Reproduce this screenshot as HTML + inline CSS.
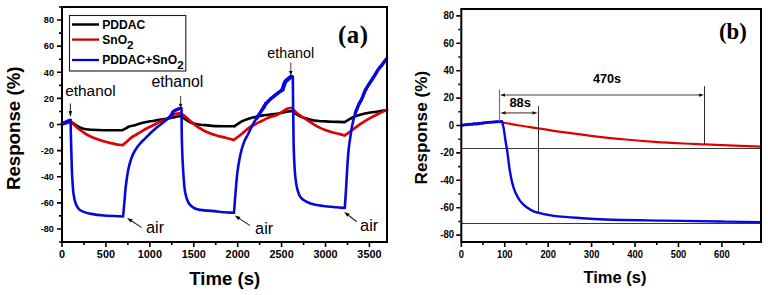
<!DOCTYPE html>
<html><head><meta charset="utf-8"><title>Response</title>
<style>html,body{margin:0;padding:0;background:#fff;}body{width:768px;height:295px;overflow:hidden;font-family:"Liberation Sans",sans-serif;}svg{display:block;}</style>
</head><body>
<svg width="768" height="295" viewBox="0 0 768 295"><rect x="0" y="0" width="768" height="295" fill="#fff"/>
<g fill="none" stroke-linejoin="round" stroke-linecap="round">
<path d="M62.00,124.30 C62.67,124.13 64.53,123.75 66.00,123.30 C67.47,122.85 70.00,121.88 70.80,121.60 M70.80,121.60 C71.52,122.08 73.58,123.52 75.10,124.50 C76.62,125.48 78.12,126.72 79.90,127.50 C81.68,128.28 83.83,128.82 85.80,129.20 C87.77,129.58 88.73,129.63 91.70,129.80 C94.67,129.97 98.47,130.13 103.60,130.20 C108.73,130.27 119.35,130.20 122.50,130.20 M122.50,130.20 C123.08,129.88 124.88,128.93 126.00,128.30 C127.12,127.67 127.70,126.92 129.20,126.40 C130.70,125.88 133.18,125.67 135.00,125.20 C136.82,124.73 138.40,124.08 140.10,123.60 C141.80,123.12 143.50,122.68 145.20,122.30 C146.90,121.92 148.62,121.58 150.30,121.30 C151.98,121.02 153.62,120.88 155.30,120.60 C156.98,120.32 158.87,119.85 160.40,119.60 C161.93,119.35 163.23,119.28 164.50,119.10 C165.77,118.92 166.57,118.75 168.00,118.50 C169.43,118.25 171.33,117.97 173.10,117.60 C174.87,117.23 177.35,116.57 178.60,116.30 C179.85,116.03 180.27,116.05 180.60,116.00 M180.60,116.00 C181.17,116.38 182.75,117.47 184.00,118.30 C185.25,119.13 186.75,120.22 188.10,121.00 C189.45,121.78 190.75,122.48 192.10,123.00 C193.45,123.52 194.83,123.80 196.20,124.10 C197.57,124.40 198.83,124.63 200.30,124.80 C201.77,124.97 202.43,124.88 205.00,125.10 C207.57,125.32 210.82,125.90 215.70,126.10 C220.58,126.30 231.20,126.27 234.30,126.30 M234.30,126.30 C235.55,125.48 239.42,122.67 241.80,121.40 C244.18,120.13 246.35,119.43 248.60,118.70 C250.85,117.97 253.05,117.52 255.30,117.00 C257.55,116.48 259.83,115.98 262.10,115.60 C264.37,115.22 266.45,115.02 268.90,114.70 C271.35,114.38 274.35,114.08 276.80,113.70 C279.25,113.32 281.35,112.80 283.60,112.40 C285.85,112.00 288.83,111.53 290.30,111.30 C291.77,111.07 292.05,111.05 292.40,111.00 M292.40,111.00 C293.18,111.62 295.42,113.65 297.10,114.70 C298.78,115.75 300.05,116.40 302.50,117.30 C304.95,118.20 309.12,119.48 311.80,120.10 C314.48,120.72 316.35,120.78 318.60,121.00 C320.85,121.22 323.05,121.28 325.30,121.40 C327.55,121.52 328.88,121.58 332.10,121.70 C335.32,121.82 342.52,122.03 344.60,122.10 M344.60,122.10 C345.35,121.65 347.33,120.37 349.10,119.40 C350.87,118.43 352.90,117.20 355.20,116.30 C357.50,115.40 360.35,114.63 362.90,114.00 C365.45,113.37 367.97,112.92 370.50,112.50 C373.03,112.08 375.57,111.88 378.10,111.50 C380.63,111.12 384.22,110.45 385.70,110.20 C387.18,109.95 386.78,110.03 387.00,110.00" stroke="#000" stroke-width="2.6"/>
<path d="M62.00,124.00 C62.67,123.80 64.57,123.20 66.00,122.80 C67.43,122.40 69.83,121.80 70.60,121.60 M70.60,121.60 C71.35,122.28 73.55,124.33 75.10,125.70 C76.65,127.07 78.12,128.42 79.90,129.80 C81.68,131.18 83.83,132.82 85.80,134.00 C87.77,135.18 89.73,136.02 91.70,136.90 C93.67,137.78 95.62,138.57 97.60,139.30 C99.58,140.03 101.62,140.70 103.60,141.30 C105.58,141.90 107.53,142.43 109.50,142.90 C111.47,143.37 113.23,143.72 115.40,144.10 C117.57,144.48 121.32,145.02 122.50,145.20 M122.50,145.20 C123.35,144.48 126.18,142.13 127.60,140.90 C129.02,139.67 129.77,138.73 131.00,137.80 C132.23,136.87 133.48,136.22 135.00,135.30 C136.52,134.38 138.40,133.32 140.10,132.30 C141.80,131.28 143.50,130.13 145.20,129.20 C146.90,128.27 148.62,127.53 150.30,126.70 C151.98,125.87 153.62,125.05 155.30,124.20 C156.98,123.35 158.87,122.28 160.40,121.60 C161.93,120.92 163.07,120.82 164.50,120.10 C165.93,119.38 167.57,118.17 169.00,117.30 C170.43,116.43 171.73,115.52 173.10,114.90 C174.47,114.28 175.95,113.87 177.20,113.60 C178.45,113.33 180.03,113.35 180.60,113.30 M180.60,113.30 C181.17,113.68 182.75,114.65 184.00,115.60 C185.25,116.55 186.75,117.87 188.10,119.00 C189.45,120.13 190.75,121.27 192.10,122.40 C193.45,123.53 194.83,124.78 196.20,125.80 C197.57,126.82 198.83,127.60 200.30,128.50 C201.77,129.40 202.43,130.07 205.00,131.20 C207.57,132.33 212.22,134.22 215.70,135.30 C219.18,136.38 222.93,136.92 225.90,137.70 C228.87,138.48 232.23,139.62 233.50,140.00 M233.50,140.00 C234.65,139.17 237.88,136.97 240.40,135.00 C242.92,133.03 246.12,130.00 248.60,128.20 C251.08,126.40 253.05,125.43 255.30,124.20 C257.55,122.97 259.83,121.93 262.10,120.80 C264.37,119.67 266.45,118.35 268.90,117.40 C271.35,116.45 274.35,116.17 276.80,115.10 C279.25,114.03 281.80,112.08 283.60,111.00 C285.40,109.92 286.25,109.12 287.60,108.60 C288.95,108.08 291.02,108.02 291.70,107.90 M291.70,107.90 C292.60,108.80 295.30,111.75 297.10,113.30 C298.90,114.85 300.05,115.58 302.50,117.20 C304.95,118.82 309.12,121.35 311.80,123.00 C314.48,124.65 316.35,125.92 318.60,127.10 C320.85,128.28 323.05,129.23 325.30,130.10 C327.55,130.97 329.83,131.67 332.10,132.30 C334.37,132.93 336.82,133.37 338.90,133.90 C340.98,134.43 343.65,135.23 344.60,135.50 M344.60,135.50 C345.35,134.97 347.33,133.58 349.10,132.30 C350.87,131.02 352.90,129.45 355.20,127.80 C357.50,126.15 360.35,124.05 362.90,122.40 C365.45,120.75 367.97,119.30 370.50,117.90 C373.03,116.50 375.57,115.23 378.10,114.00 C380.63,112.77 384.22,111.17 385.70,110.50 C387.18,109.83 386.78,110.08 387.00,110.00" stroke="#e00000" stroke-width="2.7"/>
<path d="M62.00,123.30 C62.45,123.18 63.87,122.88 64.70,122.60 C65.53,122.32 66.25,121.93 67.00,121.60 C67.75,121.27 68.60,120.80 69.20,120.60 C69.80,120.40 70.37,120.43 70.60,120.40 M70.60,120.40 C70.65,122.83 70.78,130.07 70.90,135.00 C71.02,139.93 71.13,144.17 71.30,150.00 C71.47,155.83 71.72,165.00 71.90,170.00 C72.08,175.00 72.13,176.07 72.40,180.00 C72.67,183.93 72.98,189.77 73.50,193.60 C74.02,197.43 74.60,200.40 75.50,203.00 C76.40,205.60 77.43,207.68 78.90,209.20 C80.37,210.72 82.27,211.32 84.30,212.10 C86.33,212.88 87.82,213.33 91.10,213.90 C94.38,214.47 98.67,215.07 104.00,215.50 C109.33,215.93 119.92,216.33 123.10,216.50 M123.10,216.50 C123.35,213.75 124.18,204.75 124.60,200.00 C125.02,195.25 125.00,193.00 125.60,188.00 C126.20,183.00 127.22,175.00 128.20,170.00 C129.18,165.00 130.37,161.25 131.50,158.00 C132.63,154.75 133.57,152.92 135.00,150.50 C136.43,148.08 138.40,145.52 140.10,143.50 C141.80,141.48 143.50,140.10 145.20,138.40 C146.90,136.70 148.62,134.92 150.30,133.30 C151.98,131.68 153.62,130.13 155.30,128.70 C156.98,127.27 158.78,125.98 160.40,124.70 C162.02,123.42 163.55,122.18 165.00,121.00 C166.45,119.82 168.02,118.60 169.10,117.60 C170.18,116.60 170.88,115.90 171.50,115.00 C172.12,114.10 172.30,112.90 172.80,112.20 C173.30,111.50 173.77,111.25 174.50,110.80 C175.23,110.35 176.18,109.95 177.20,109.50 C178.22,109.05 180.03,108.33 180.60,108.10 M181.50,108.10 C181.53,111.75 181.62,123.85 181.70,130.00 C181.78,136.15 181.85,140.00 182.00,145.00 C182.15,150.00 182.33,154.67 182.60,160.00 C182.87,165.33 183.15,171.50 183.60,177.00 C184.05,182.50 184.35,188.50 185.30,193.00 C186.25,197.50 187.35,201.28 189.30,204.00 C191.25,206.72 193.88,208.20 197.00,209.30 C200.12,210.40 204.33,210.20 208.00,210.60 C211.67,211.00 214.67,211.33 219.00,211.70 C223.33,212.07 231.50,212.62 234.00,212.80 M234.00,212.80 C234.25,209.50 234.95,199.60 235.50,193.00 C236.05,186.40 236.67,178.70 237.30,173.20 C237.93,167.70 238.60,163.87 239.30,160.00 C240.00,156.13 240.63,153.17 241.50,150.00 C242.37,146.83 243.43,143.58 244.50,141.00 C245.57,138.42 246.55,137.20 247.90,134.50 C249.25,131.80 251.13,127.55 252.60,124.80 C254.07,122.05 255.12,120.48 256.70,118.00 C258.28,115.52 260.52,112.35 262.10,109.90 C263.68,107.45 264.50,105.37 266.20,103.30 C267.90,101.23 270.13,99.37 272.30,97.50 C274.47,95.63 277.47,93.45 279.20,92.10 C280.93,90.75 281.92,90.53 282.70,89.40 C283.48,88.27 283.42,86.65 283.90,85.30 C284.38,83.95 284.80,82.42 285.60,81.30 C286.40,80.18 287.70,79.40 288.70,78.60 C289.70,77.80 291.12,76.85 291.60,76.50 M292.80,76.50 C292.88,83.75 293.13,107.75 293.30,120.00 C293.47,132.25 293.48,140.75 293.80,150.00 C294.12,159.25 294.55,168.72 295.20,175.50 C295.85,182.28 296.65,186.88 297.70,190.70 C298.75,194.52 299.37,196.28 301.50,198.40 C303.63,200.52 306.88,202.13 310.50,203.40 C314.12,204.67 318.97,205.35 323.20,206.00 C327.43,206.65 332.30,206.97 335.90,207.30 C339.50,207.63 343.32,207.88 344.80,208.00 M344.80,208.00 C345.02,204.70 345.67,195.32 346.10,188.20 C346.53,181.08 346.98,171.67 347.40,165.30 C347.82,158.93 348.18,154.22 348.60,150.00 C349.02,145.78 349.30,144.08 349.90,140.00 C350.50,135.92 351.32,129.95 352.20,125.50 C353.08,121.05 354.07,116.87 355.20,113.30 C356.33,109.73 357.92,106.47 359.00,104.10 C360.08,101.73 360.70,101.28 361.70,99.10 C362.70,96.92 363.92,93.30 365.00,91.00 C366.08,88.70 366.85,87.47 368.20,85.30 C369.55,83.13 371.47,80.57 373.10,78.00 C374.73,75.43 376.52,72.07 378.00,69.90 C379.48,67.73 380.65,66.77 382.00,65.00 C383.35,63.23 385.27,60.43 386.10,59.30 C386.93,58.17 386.85,58.38 387.00,58.20" stroke="#0808dc" stroke-width="2.6"/>
<path d="M62.50,123.30 C62.87,123.18 63.95,122.88 64.70,122.60 C65.45,122.32 66.25,121.93 67.00,121.60 C67.75,121.27 68.63,120.80 69.20,120.60 C69.77,120.40 70.20,120.43 70.40,120.40" stroke="#0808dc" stroke-width="3.6"/>
<path d="M169.10,117.60 C169.50,117.17 170.88,115.90 171.50,115.00 C172.12,114.10 172.30,112.90 172.80,112.20 C173.30,111.50 173.77,111.25 174.50,110.80 C175.23,110.35 176.23,109.92 177.20,109.50 C178.17,109.08 179.78,108.50 180.30,108.30" stroke="#0808dc" stroke-width="3.4"/>
<path d="M256.70,118.00 C257.60,116.65 260.52,112.35 262.10,109.90 C263.68,107.45 264.50,105.37 266.20,103.30 C267.90,101.23 270.13,99.37 272.30,97.50 C274.47,95.63 277.47,93.45 279.20,92.10 C280.93,90.75 282.12,89.85 282.70,89.40" stroke="#0808dc" stroke-width="3.5"/>
<path d="M282.70,89.40 C282.90,88.72 283.42,86.65 283.90,85.30 C284.38,83.95 284.80,82.42 285.60,81.30 C286.40,80.18 287.77,79.35 288.70,78.60 C289.63,77.85 290.78,77.10 291.20,76.80" stroke="#0808dc" stroke-width="4.2"/>
<path d="M355.20,113.30 C355.83,111.77 357.92,106.47 359.00,104.10 C360.08,101.73 360.70,101.28 361.70,99.10 C362.70,96.92 363.92,93.30 365.00,91.00 C366.08,88.70 366.85,87.47 368.20,85.30 C369.55,83.13 371.47,80.57 373.10,78.00 C374.73,75.43 376.52,72.07 378.00,69.90 C379.48,67.73 380.65,66.77 382.00,65.00 C383.35,63.23 385.42,60.25 386.10,59.30" stroke="#0808dc" stroke-width="3.3"/>
</g>
<rect x="62" y="7" width="325" height="235" fill="none" stroke="#000" stroke-width="2"/>
<path d="M61,242.00 h-2 M61,228.94 h-4 M61,215.89 h-2 M61,202.83 h-4 M61,189.78 h-2 M61,176.72 h-4 M61,163.67 h-2 M61,150.61 h-4 M61,137.56 h-2 M61,124.50 h-4 M61,111.44 h-2 M61,98.39 h-4 M61,85.33 h-2 M61,72.28 h-4 M61,59.22 h-2 M61,46.17 h-4 M61,33.11 h-2 M61,20.06 h-4 M61,7.00 h-2 M62.00,243 v4 M83.96,243 v2 M105.92,243 v4 M127.88,243 v2 M149.84,243 v4 M171.80,243 v2 M193.76,243 v4 M215.72,243 v2 M237.68,243 v4 M259.64,243 v2 M281.59,243 v4 M303.55,243 v2 M325.51,243 v4 M347.47,243 v2 M369.43,243 v4" stroke="#000" stroke-width="1.6" fill="none"/>
<text transform="translate(54.00,232.24) scale(0.93,1)" font-family="Liberation Sans, sans-serif" font-size="9.9" font-weight="bold" text-anchor="end">-80</text>
<text transform="translate(54.00,206.13) scale(0.93,1)" font-family="Liberation Sans, sans-serif" font-size="9.9" font-weight="bold" text-anchor="end">-60</text>
<text transform="translate(54.00,180.02) scale(0.93,1)" font-family="Liberation Sans, sans-serif" font-size="9.9" font-weight="bold" text-anchor="end">-40</text>
<text transform="translate(54.00,153.91) scale(0.93,1)" font-family="Liberation Sans, sans-serif" font-size="9.9" font-weight="bold" text-anchor="end">-20</text>
<text transform="translate(54.00,127.80) scale(0.93,1)" font-family="Liberation Sans, sans-serif" font-size="9.9" font-weight="bold" text-anchor="end">0</text>
<text transform="translate(54.00,101.69) scale(0.93,1)" font-family="Liberation Sans, sans-serif" font-size="9.9" font-weight="bold" text-anchor="end">20</text>
<text transform="translate(54.00,75.58) scale(0.93,1)" font-family="Liberation Sans, sans-serif" font-size="9.9" font-weight="bold" text-anchor="end">40</text>
<text transform="translate(54.00,49.47) scale(0.93,1)" font-family="Liberation Sans, sans-serif" font-size="9.9" font-weight="bold" text-anchor="end">60</text>
<text transform="translate(54.00,23.36) scale(0.93,1)" font-family="Liberation Sans, sans-serif" font-size="9.9" font-weight="bold" text-anchor="end">80</text>
<text transform="translate(62.00,258.30) scale(0.92,1)" font-family="Liberation Sans, sans-serif" font-size="11.8" font-weight="bold" text-anchor="middle">0</text>
<text transform="translate(105.92,258.30) scale(0.92,1)" font-family="Liberation Sans, sans-serif" font-size="11.8" font-weight="bold" text-anchor="middle">500</text>
<text transform="translate(149.84,258.30) scale(0.92,1)" font-family="Liberation Sans, sans-serif" font-size="11.8" font-weight="bold" text-anchor="middle">1000</text>
<text transform="translate(193.76,258.30) scale(0.92,1)" font-family="Liberation Sans, sans-serif" font-size="11.8" font-weight="bold" text-anchor="middle">1500</text>
<text transform="translate(237.68,258.30) scale(0.92,1)" font-family="Liberation Sans, sans-serif" font-size="11.8" font-weight="bold" text-anchor="middle">2000</text>
<text transform="translate(281.59,258.30) scale(0.92,1)" font-family="Liberation Sans, sans-serif" font-size="11.8" font-weight="bold" text-anchor="middle">2500</text>
<text transform="translate(325.51,258.30) scale(0.92,1)" font-family="Liberation Sans, sans-serif" font-size="11.8" font-weight="bold" text-anchor="middle">3000</text>
<text transform="translate(369.43,258.30) scale(0.92,1)" font-family="Liberation Sans, sans-serif" font-size="11.8" font-weight="bold" text-anchor="middle">3500</text>
<text x="224.80" y="284.80" font-family="Liberation Sans, sans-serif" font-size="18.6" font-weight="bold" text-anchor="middle">Time (s)</text>
<g transform="translate(20.4,128.3) rotate(-90)"><text x="0.00" y="0.00" font-family="Liberation Sans, sans-serif" font-size="18.7" font-weight="bold" text-anchor="middle">Response (%)</text></g>
<text x="353.30" y="42.60" font-family="Liberation Serif, serif" font-size="24.8" font-weight="bold" text-anchor="middle" letter-spacing="0.6">(a)</text>
<rect x="69.5" y="15.5" width="116.3" height="55.5" fill="#fff" stroke="#1a1a1a" stroke-width="1.1"/>
<path d="M72,24.5 H99" stroke="#000" stroke-width="2.5"/>
<path d="M72,39.6 H99" stroke="#c80000" stroke-width="2.3"/>
<path d="M72,60 H99" stroke="#0000d8" stroke-width="2.3"/>
<text x="102.20" y="28.90" font-family="Liberation Sans, sans-serif" font-size="12.1" font-weight="bold">PDDAC</text>
<text x="102.20" y="44.40" font-family="Liberation Sans, sans-serif" font-size="12.1" font-weight="bold">SnO<tspan font-size="11.6" dy="4.4">2</tspan></text>
<text x="102.20" y="64.40" font-family="Liberation Sans, sans-serif" font-size="12.1" font-weight="bold">PDDAC+SnO<tspan font-size="11.6" dy="4.4">2</tspan></text>
<text x="65.20" y="95.50" font-family="Liberation Sans, sans-serif" font-size="15.4">ethanol</text>
<text x="151.40" y="86.90" font-family="Liberation Sans, sans-serif" font-size="15.8">ethanol</text>
<text x="267.30" y="58.30" font-family="Liberation Sans, sans-serif" font-size="14.3">ethanol</text>
<text x="146.00" y="233.10" font-family="Liberation Sans, sans-serif" font-size="16.3">air</text>
<text x="255.10" y="234.20" font-family="Liberation Sans, sans-serif" font-size="16.3">air</text>
<text x="360.10" y="230.90" font-family="Liberation Sans, sans-serif" font-size="16.4">air</text>
<path d="M70.40,103.50 L70.40,111.00" stroke="#333" stroke-width="1.1"/><path d="M70.40,117.00 L68.70,111.00 L72.10,111.00 Z" fill="#000"/>
<path d="M180.60,96.00 L180.60,103.80" stroke="#555" stroke-width="1.1"/><path d="M180.60,107.80 L178.80,103.80 L182.40,103.80 Z" fill="#000"/>
<path d="M290.80,62.40 L290.80,71.00" stroke="#555" stroke-width="1.1"/><path d="M290.80,75.50 L289.00,71.00 L292.60,71.00 Z" fill="#000"/>
<path d="M141.70,227.60 L131.70,221.02" stroke="#222" stroke-width="1.1"/><path d="M127.10,218.00 L132.74,219.43 L130.65,222.61 Z" fill="#000"/>
<path d="M250.10,225.60 L239.40,218.61" stroke="#222" stroke-width="1.1"/><path d="M234.80,215.60 L240.44,217.02 L238.36,220.20 Z" fill="#000"/>
<path d="M356.70,221.70 L348.53,215.29" stroke="#222" stroke-width="1.1"/><path d="M344.20,211.90 L349.70,213.80 L347.36,216.79 Z" fill="#000"/>
<path d="M461.3,148.5 H761 M461.3,223.5 H761" stroke="#383838" stroke-width="1"/>
<g fill="none" stroke-linejoin="round" stroke-linecap="round">
<path d="M502.20,122.30 C505.02,122.83 512.80,124.45 519.10,125.50 C525.40,126.55 531.75,127.37 540.00,128.60 C548.25,129.83 559.05,131.57 568.60,132.90 C578.15,134.23 587.75,135.50 597.30,136.60 C606.85,137.70 616.35,138.63 625.90,139.50 C635.45,140.37 645.05,141.13 654.60,141.80 C664.15,142.47 674.85,143.07 683.20,143.50 C691.55,143.93 695.15,144.02 704.70,144.40 C714.25,144.78 731.12,145.43 740.50,145.80 C749.88,146.17 757.58,146.47 761.00,146.60" stroke="#e00000" stroke-width="2.2"/>
<path d="M461.30,125.30 C462.75,125.15 466.83,124.73 470.00,124.40 C473.17,124.07 476.97,123.65 480.30,123.30 C483.63,122.95 486.83,122.58 490.00,122.30 C493.17,122.02 497.30,121.72 499.30,121.60 C501.30,121.48 501.55,121.60 502.00,121.60 M502.00,121.60 C502.28,122.73 503.08,125.00 503.70,128.40 C504.32,131.80 505.13,138.40 505.70,142.00 C506.27,145.60 506.67,147.08 507.10,150.00 C507.53,152.92 507.83,155.95 508.30,159.50 C508.77,163.05 509.23,167.37 509.90,171.30 C510.57,175.23 511.38,179.55 512.30,183.10 C513.22,186.65 514.10,189.63 515.40,192.60 C516.70,195.57 518.33,198.53 520.10,200.90 C521.87,203.27 523.83,205.10 526.00,206.80 C528.17,208.50 530.93,210.08 533.10,211.10 C535.27,212.12 536.43,212.25 539.00,212.90 C541.57,213.55 545.33,214.42 548.50,215.00 C551.67,215.58 553.32,215.93 558.00,216.40 C562.68,216.87 568.72,217.28 576.60,217.80 C584.48,218.32 590.97,219.03 605.30,219.50 C619.63,219.97 643.50,220.27 662.60,220.60 C681.70,220.93 703.50,221.25 719.90,221.50 C736.30,221.75 754.15,222.00 761.00,222.10" stroke="#0808dc" stroke-width="2.4"/>
<path d="M462.00,125.40 C463.33,125.23 466.95,124.75 470.00,124.40 C473.05,124.05 476.97,123.65 480.30,123.30 C483.63,122.95 486.83,122.58 490.00,122.30 C493.17,122.02 497.30,121.72 499.30,121.60 C501.30,121.48 501.55,121.60 502.00,121.60" stroke="#0808dc" stroke-width="2.6"/>
<path d="M462.00,124.91 L462.80,124.45 L463.60,125.47 L464.41,124.12 L465.21,125.06 L466.01,124.61 L466.81,123.85 L467.61,124.76 L468.42,123.65 L469.22,124.44 L470.02,123.56 L470.82,123.52 L471.62,124.18 L472.43,124.98 L473.23,123.36 L474.03,123.50 L474.83,124.31 L475.63,124.93 L476.44,124.04 L477.24,123.56 L478.04,124.76 L478.84,122.63 L479.64,124.34 L480.45,123.01 L481.25,122.61 L482.05,122.47 L482.85,122.81 L483.66,123.85 L484.46,122.37 L485.26,123.17 L486.06,123.22 L486.86,122.55 L487.67,122.86 L488.47,121.71 L489.27,121.63 L490.07,121.87 L490.87,122.83 L491.68,122.20 L492.48,121.87 L493.28,122.38 L494.08,122.01 L494.88,121.60 L495.69,122.60 L496.49,122.32 L497.29,121.23 L498.09,121.88 L498.89,121.69 L499.70,122.38 L500.50,121.98 L501.30,120.93" stroke="#0808dc" stroke-width="1.6" fill="none" stroke-linejoin="round"/>
<path d="M62.28,122.60 L63.81,123.61 L64.91,123.08 L65.27,121.82 L66.23,121.92 L66.96,121.51 L67.86,121.54 L68.71,121.46 L69.07,119.80 L70.40,120.40" stroke="#0808dc" stroke-width="1.5" fill="none" stroke-linejoin="round"/>
<path d="M257.69,118.66 L258.12,117.97 L256.64,116.01 L257.15,115.38 L259.23,115.78 L259.46,114.97 L259.77,114.19 L259.43,113.00 L260.53,112.75 L260.98,112.08 L261.38,111.37 L260.91,110.08 L261.95,109.80 L262.32,109.02 L263.50,108.74 L264.56,108.38 L264.91,107.58 L264.48,106.29 L264.71,105.42 L264.78,104.45 L264.72,103.40 L265.35,102.41 L266.75,102.65 L267.09,101.80 L267.82,101.33 L269.34,101.72 L269.30,100.45 L269.97,99.93 L270.00,98.74 L270.23,97.76 L271.38,97.75 L271.72,96.76 L273.01,96.98 L274.48,97.44 L274.65,96.24 L274.55,94.69 L276.38,95.61 L276.92,94.87 L277.51,94.20 L278.47,94.01 L278.93,93.18 L279.66,92.70 L279.67,91.26 L281.36,92.01 L282.03,91.43 L281.46,89.24 L283.33,89.59 L283.48,88.74 L283.08,87.73 L283.50,86.96 L283.64,86.11 L284.92,85.73 L284.24,84.50 L285.37,84.04 L284.57,82.75 L286.18,82.49 L286.28,82.08 L286.15,80.68 L286.96,80.35 L288.18,80.50 L288.46,79.58 L288.68,78.57 L289.11,77.41 L290.10,77.03 L291.20,76.80" stroke="#0808dc" stroke-width="1.5" fill="none" stroke-linejoin="round"/>
<path d="M354.66,113.08 L354.71,112.20 L355.62,111.68 L355.45,110.71 L355.59,109.87 L356.58,109.38 L357.95,109.05 L358.03,108.19 L358.27,107.39 L357.48,106.17 L358.44,105.66 L358.23,104.68 L358.37,103.76 L358.62,102.97 L359.22,102.37 L360.98,102.40 L361.18,101.59 L361.52,100.85 L361.90,100.13 L361.08,98.85 L361.64,98.13 L362.62,97.59 L363.16,96.86 L363.74,96.15 L364.12,95.37 L362.84,93.90 L364.23,93.52 L364.69,92.76 L364.68,91.81 L364.38,90.65 L365.35,90.26 L365.01,89.13 L367.03,89.33 L367.30,88.54 L367.09,87.49 L367.02,86.51 L368.58,86.45 L368.33,85.39 L369.39,85.04 L369.82,84.27 L369.69,83.12 L370.00,82.27 L370.83,81.77 L371.01,80.84 L371.01,79.77 L371.76,79.22 L373.18,79.11 L372.24,77.48 L372.69,76.75 L374.23,76.67 L374.02,75.54 L374.95,75.09 L375.27,74.29 L375.48,73.40 L377.15,73.41 L376.09,71.76 L376.94,71.27 L376.99,70.30 L378.23,70.08 L378.19,68.89 L378.90,68.30 L380.14,68.14 L379.98,66.85 L380.96,66.48 L382.12,66.26 L381.29,64.49 L381.73,63.72 L382.54,63.23 L384.01,63.20 L384.26,62.30 L384.09,61.10 L384.77,60.51 L385.01,59.60 L386.10,59.30" stroke="#0808dc" stroke-width="1.5" fill="none" stroke-linejoin="round"/>
</g>
<rect x="461.3" y="9" width="299.7" height="233" fill="none" stroke="#000" stroke-width="2"/>
<path d="M460.3,235.15 h-4 M460.3,221.44 h-2 M460.3,207.74 h-4 M460.3,194.03 h-2 M460.3,180.32 h-4 M460.3,166.62 h-2 M460.3,152.91 h-4 M460.3,139.21 h-2 M460.3,125.50 h-4 M460.3,111.79 h-2 M460.3,98.09 h-4 M460.3,84.38 h-2 M460.3,70.68 h-4 M460.3,56.97 h-2 M460.3,43.26 h-4 M460.3,29.56 h-2 M460.3,15.85 h-4 M461.30,243 v4 M483.02,243 v2 M504.73,243 v4 M526.45,243 v2 M548.17,243 v4 M569.89,243 v2 M591.60,243 v4 M613.32,243 v2 M635.04,243 v4 M656.76,243 v2 M678.47,243 v4 M700.19,243 v2 M721.91,243 v4 M743.63,243 v2" stroke="#000" stroke-width="1.6" fill="none"/>
<text transform="translate(454.10,238.45) scale(0.92,1)" font-family="Liberation Sans, sans-serif" font-size="10.4" font-weight="bold" text-anchor="end">-80</text>
<text transform="translate(454.10,211.04) scale(0.92,1)" font-family="Liberation Sans, sans-serif" font-size="10.4" font-weight="bold" text-anchor="end">-60</text>
<text transform="translate(454.10,183.62) scale(0.92,1)" font-family="Liberation Sans, sans-serif" font-size="10.4" font-weight="bold" text-anchor="end">-40</text>
<text transform="translate(454.10,156.21) scale(0.92,1)" font-family="Liberation Sans, sans-serif" font-size="10.4" font-weight="bold" text-anchor="end">-20</text>
<text transform="translate(454.10,128.80) scale(0.92,1)" font-family="Liberation Sans, sans-serif" font-size="10.4" font-weight="bold" text-anchor="end">0</text>
<text transform="translate(454.10,101.39) scale(0.92,1)" font-family="Liberation Sans, sans-serif" font-size="10.4" font-weight="bold" text-anchor="end">20</text>
<text transform="translate(454.10,73.98) scale(0.92,1)" font-family="Liberation Sans, sans-serif" font-size="10.4" font-weight="bold" text-anchor="end">40</text>
<text transform="translate(454.10,46.56) scale(0.92,1)" font-family="Liberation Sans, sans-serif" font-size="10.4" font-weight="bold" text-anchor="end">60</text>
<text transform="translate(454.10,19.15) scale(0.92,1)" font-family="Liberation Sans, sans-serif" font-size="10.4" font-weight="bold" text-anchor="end">80</text>
<text transform="translate(461.30,258.00) scale(0.9,1)" font-family="Liberation Sans, sans-serif" font-size="10.4" font-weight="bold" text-anchor="middle">0</text>
<text transform="translate(504.73,258.00) scale(0.9,1)" font-family="Liberation Sans, sans-serif" font-size="10.4" font-weight="bold" text-anchor="middle">100</text>
<text transform="translate(548.17,258.00) scale(0.9,1)" font-family="Liberation Sans, sans-serif" font-size="10.4" font-weight="bold" text-anchor="middle">200</text>
<text transform="translate(591.60,258.00) scale(0.9,1)" font-family="Liberation Sans, sans-serif" font-size="10.4" font-weight="bold" text-anchor="middle">300</text>
<text transform="translate(635.04,258.00) scale(0.9,1)" font-family="Liberation Sans, sans-serif" font-size="10.4" font-weight="bold" text-anchor="middle">400</text>
<text transform="translate(678.47,258.00) scale(0.9,1)" font-family="Liberation Sans, sans-serif" font-size="10.4" font-weight="bold" text-anchor="middle">500</text>
<text transform="translate(721.91,258.00) scale(0.9,1)" font-family="Liberation Sans, sans-serif" font-size="10.4" font-weight="bold" text-anchor="middle">600</text>
<text transform="translate(615.00,283.00) scale(0.95,1)" font-family="Liberation Sans, sans-serif" font-size="17.4" font-weight="bold" text-anchor="middle">Time (s)</text>
<g transform="translate(427.4,127.6) rotate(-90)"><text x="0.00" y="0.00" font-family="Liberation Sans, sans-serif" font-size="17.2" font-weight="bold" text-anchor="middle">Response (%)</text></g>
<text x="732.90" y="39.30" font-family="Liberation Serif, serif" font-size="22.8" font-weight="bold" text-anchor="middle">(b)</text>
<path d="M499.5,89.5 V121.2" stroke="#777" stroke-width="1.2"/>
<path d="M538.5,106.2 V212" stroke="#2a2a2a" stroke-width="1"/>
<path d="M704.5,86.3 V144.4" stroke="#2a2a2a" stroke-width="1"/>
<path d="M600.00,95.10 L505.00,95.10" stroke="#808080" stroke-width="1.5"/><path d="M500.00,95.10 L505.00,93.40 L505.00,96.80 Z" fill="#111"/>
<path d="M600.00,95.10 L699.00,95.10" stroke="#808080" stroke-width="1.5"/><path d="M704.00,95.10 L699.00,96.80 L699.00,93.40 Z" fill="#111"/>
<path d="M519.00,112.90 L505.70,112.90" stroke="#707070" stroke-width="1.5"/><path d="M500.20,112.90 L505.70,111.20 L505.70,114.60 Z" fill="#111"/>
<path d="M519.00,112.90 L532.30,112.90" stroke="#707070" stroke-width="1.5"/><path d="M537.80,112.90 L532.30,114.60 L532.30,111.20 Z" fill="#111"/>
<text transform="translate(509.40,107.40) scale(0.97,1)" font-family="Liberation Sans, sans-serif" font-size="13.4" font-weight="bold">88s</text>
<text transform="translate(592.90,82.90) scale(0.93,1)" font-family="Liberation Sans, sans-serif" font-size="13.6" font-weight="bold">470s</text></svg>
</body></html>
